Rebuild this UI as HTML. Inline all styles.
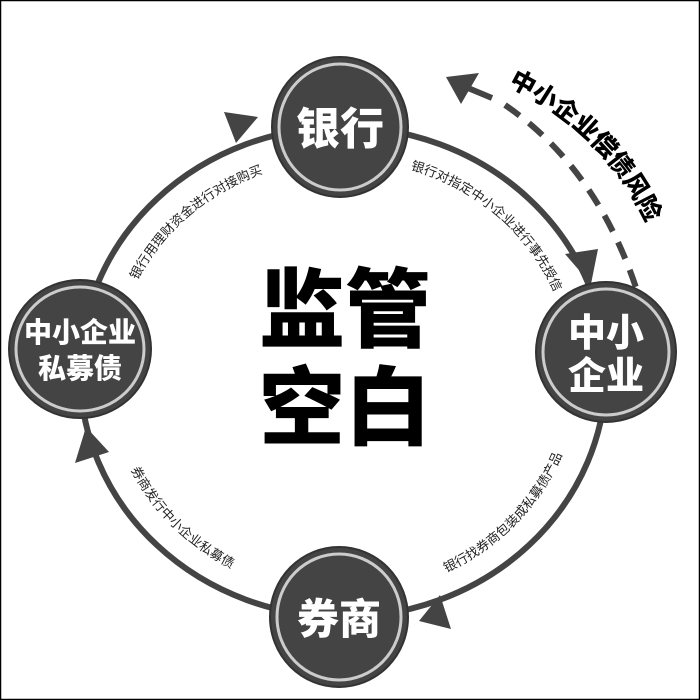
<!DOCTYPE html>
<html><head><meta charset="utf-8"><style>
html,body{margin:0;padding:0;background:#fff}
svg{display:block}
text{font-family:"Liberation Sans","Noto Sans CJK SC","WenQuanYi Zen Hei",sans-serif}
</style></head><body>
<svg width="700" height="700" viewBox="0 0 700 700" xmlns="http://www.w3.org/2000/svg">
<rect x="0.5" y="0.5" width="699" height="699" fill="#fff" stroke="#000" stroke-width="1.5"/>
<defs>
<path id="a1" d="M 115 372 A 228 212 0 0 1 343 160"/>
<path id="a2" d="M 343 160 A 228 212 0 0 1 571 372"/>
<path id="a3" d="M 343 595 A 236 223 0 0 0 579 372"/>
<path id="a4" d="M 107 372 A 236 223 0 0 0 343 595"/>
<path id="dt" d="M 506 84 Q 625 142 662 264"/>
</defs>
<ellipse cx="343" cy="372" rx="263" ry="245" fill="none" stroke="#444" stroke-width="6"/>
<!-- arrowheads -->
<polygon points="258,117 224,112 236,143" fill="#444"/>
<polygon points="591,284 565,254 598,249" fill="#444"/>
<polygon points="419,621 440,595 451,629" fill="#444"/>
<polygon points="86,427 75,463 109,452" fill="#444"/>
<!-- dashed risk arrow -->
<path d="M 468 88 L 492 98" fill="none" stroke="#444" stroke-width="6"/>
<path d="M 505 105 Q 600 170 640 300" fill="none" stroke="#444" stroke-width="6" stroke-dasharray="18 12"/>
<polygon points="446,77 479,73 461,104" fill="#444"/>
<text font-size="25" font-weight="900" fill="#000"><textPath href="#dt" startOffset="2">中小企业偿债风险</textPath></text>
<!-- arc labels -->
<g font-size="13" fill="#222">
<text><textPath href="#a1" startOffset="52%" text-anchor="middle">银行用理财资金进行对接购买</textPath></text>
<text><textPath href="#a2" startOffset="48%" text-anchor="middle">银行对指定中小企业进行事先授信</textPath></text>
<text><textPath href="#a3" startOffset="53%" text-anchor="middle">银行找券商包装成私募债产品</textPath></text>
<text><textPath href="#a4" startOffset="48%" text-anchor="middle">券商发行中小企业私募债</textPath></text>
</g>
<!-- nodes -->
<g fill="#444" stroke="#333" stroke-width="2">
<ellipse cx="340" cy="127" rx="68" ry="70"/>
<ellipse cx="80" cy="349" rx="71" ry="69"/>
<ellipse cx="606" cy="352" rx="70" ry="70"/>
<ellipse cx="339" cy="617" rx="69" ry="70"/>
</g>
<g fill="none" stroke="#ccc" stroke-width="3">
<ellipse cx="340" cy="127" rx="61" ry="63"/>
<ellipse cx="80" cy="349" rx="64" ry="62"/>
<ellipse cx="606" cy="352" rx="63" ry="63"/>
<ellipse cx="339" cy="617" rx="62" ry="63"/>
</g>
<g fill="#fff" font-weight="900" text-anchor="middle">
<text x="340" y="144" font-size="44">银行</text>
<text x="80" y="342" font-size="28">中小企业</text>
<text x="80" y="378" font-size="28">私募债</text>
<text x="606" y="346" font-size="38">中小</text>
<text x="606" y="389" font-size="38">企业</text>
<text x="339" y="634" font-size="42">券商</text>
</g>
<g fill="#000" font-weight="900" text-anchor="middle" font-size="86">
<text x="345" y="340">监管</text>
<text x="345" y="438">空白</text>
</g>
</svg>
</body></html>
